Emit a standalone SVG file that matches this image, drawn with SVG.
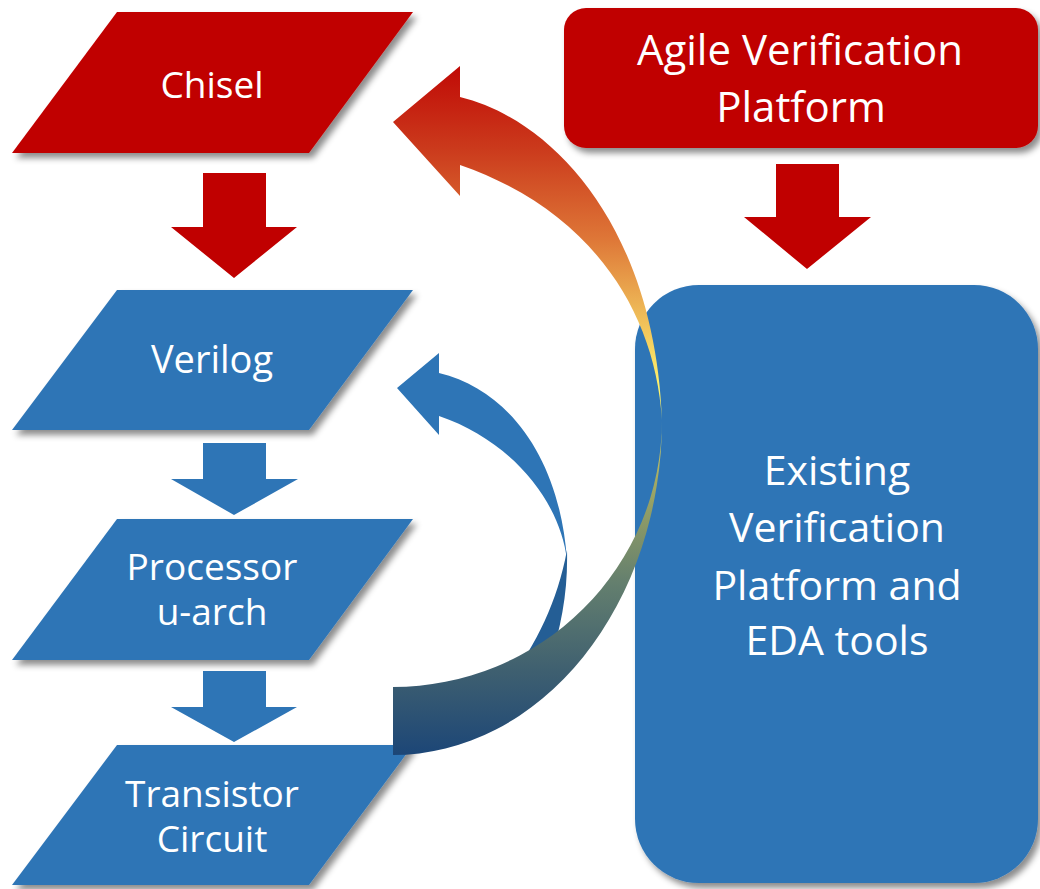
<svg xmlns="http://www.w3.org/2000/svg" width="1040" height="889" viewBox="0 0 1040 889">
  <defs>
    <filter id="shadow" x="-10%" y="-10%" width="125%" height="130%">
      <feDropShadow dx="4" dy="5" stdDeviation="3" flood-color="#000" flood-opacity="0.45"/>
    </filter>
    <linearGradient id="flowGrad" gradientUnits="userSpaceOnUse" x1="0" y1="66" x2="0" y2="755">
      <stop offset="0" stop-color="#C00A06"/>
      <stop offset="0.12" stop-color="#CB3A1C"/>
      <stop offset="0.25" stop-color="#DE7637"/>
      <stop offset="0.35" stop-color="#EDB555"/>
      <stop offset="0.47" stop-color="#FFF56E"/>
      <stop offset="0.6" stop-color="#A3AA63"/>
      <stop offset="0.75" stop-color="#647F6E"/>
      <stop offset="0.88" stop-color="#3E5F70"/>
      <stop offset="1" stop-color="#1C4677"/>
    </linearGradient>
    <style>
      .red { fill: #C00000; }
      .blue { fill: #2E75B6; }
      .label { fill: #FFFFFF; font-family: "Open Sans", "Noto Sans", "Liberation Sans", sans-serif; text-anchor: middle; }
    </style>
  </defs>

  <!-- flow stages on the left -->
  <g id="node-chisel">
    <polygon class="red" filter="url(#shadow)" points="117,12 413,12 309,153 12,153"/>
    <text class="label" x="212" y="98" font-size="37">Chisel</text>
  </g>
  <g id="node-verilog">
    <polygon class="blue" filter="url(#shadow)" points="117,290 413,290 309,430 12,430"/>
    <text class="label" x="212" y="373" font-size="38">Verilog</text>
  </g>
  <g id="node-processor">
    <polygon class="blue" filter="url(#shadow)" points="117,519 413,519 309,660 12,660"/>
    <text class="label" x="212" y="580" font-size="37">Processor</text>
    <text class="label" x="212" y="625" font-size="37">u-arch</text>
  </g>
  <g id="node-transistor">
    <polygon class="blue" filter="url(#shadow)" points="117,745 413,745 309,885 12,885"/>
    <text class="label" x="212" y="807" font-size="37">Transistor</text>
    <text class="label" x="212" y="852" font-size="37">Circuit</text>
  </g>

  <!-- platforms on the right -->
  <g id="node-agile">
    <rect class="red" filter="url(#shadow)" x="564" y="8" width="474" height="140" rx="22" ry="22"/>
    <text class="label" x="800" y="65" font-size="42">Agile Verification</text>
    <text class="label" x="801" y="122" font-size="42">Platform</text>
  </g>
  <g id="node-existing">
    <rect class="blue" filter="url(#shadow)" x="635" y="285" width="403" height="598" rx="64" ry="64"/>
    <text class="label" x="837" y="485" font-size="41">Existing</text>
    <text class="label" x="837" y="542" font-size="41">Verification</text>
    <text class="label" x="837" y="600" font-size="41">Platform and</text>
    <text class="label" x="837" y="655" font-size="41">EDA tools</text>
  </g>

  <g id="connectors">
    <!-- straight block arrows -->
    <polygon class="red" points="203,173 266,173 266,227 297,227 234,278 171,227 203,227"/>
    <polygon class="blue" points="203,443 266,443 266,479 298,479 234,515 171,479 203,479"/>
    <polygon class="blue" points="203,671 266,671 266,707 297,707 234,742 171,707 203,707"/>
    <polygon class="red" points="776,164 839,164 839,217 871,217 807,269 744,217 776,217"/>

    <!-- feedback loop: lower back face, then upper face with head -->
    <path fill="#245E95" d="M 567,550 C 568,590 562,625 548,668 L 495,700 C 530,655 556,610 567,550 Z"/>
    <path class="blue" d="M 439,373 C 510,390 560,460 567,560 C 560,500 510,440 439,416 L 439,435 L 397,388 L 439,353 Z"/>

    <!-- verification loop back to Chisel -->
    <path fill="url(#flowGrad)" d="M 393,687 A 269,267 0 0 0 662,420 A 269,335 0 0 1 393,755 Z"/>
    <path fill="url(#flowGrad)" d="M 460,97 C 555,120 655,230 662,420 C 655,310 590,210 460,165 L 460,196 L 393,122 L 460,66 Z"/>
  </g>
</svg>
